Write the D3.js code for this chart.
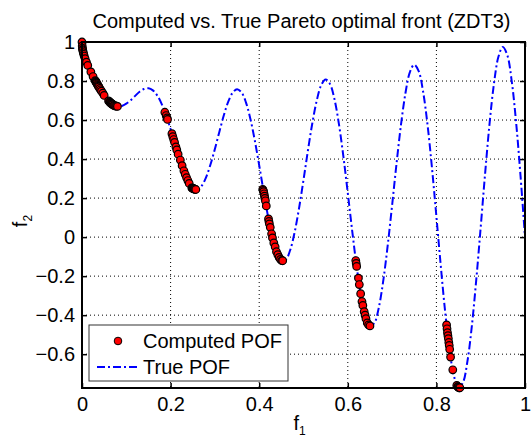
<!DOCTYPE html>
<html>
<head>
<meta charset="utf-8">
<script src="https://cdn.jsdelivr.net/npm/d3@7"></script>
<style>
  body { margin: 0; background: #fff; }
  svg { display: block; font-family: Arial, "Liberation Sans", sans-serif; }
  .grid line { stroke: #000; stroke-width: 1; stroke-dasharray: 1,3; }
</style>
</head>
<body>
<div id="chart"></div>
<script>
// true Pareto front
const trueF1 = [0, 0.001, 0.003, 0.005, 0.01, 0.02, 0.03, 0.04, 0.05, 0.06, 0.07, 0.08, 0.09,
  0.10, 0.11, 0.12, 0.13, 0.14, 0.15, 0.16, 0.17, 0.18, 0.19,
  0.20, 0.21, 0.22, 0.23, 0.24, 0.25, 0.26, 0.27, 0.28, 0.29,
  0.30, 0.31, 0.32, 0.33, 0.34, 0.35, 0.36, 0.37, 0.38, 0.39,
  0.40, 0.41, 0.42, 0.43, 0.44, 0.45, 0.46, 0.47, 0.48, 0.49,
  0.50, 0.51, 0.52, 0.53, 0.54, 0.55, 0.56, 0.57, 0.58, 0.59,
  0.60, 0.61, 0.62, 0.63, 0.64, 0.65, 0.66, 0.67, 0.68, 0.69,
  0.70, 0.71, 0.72, 0.73, 0.74, 0.75, 0.76, 0.77, 0.78, 0.79,
  0.80, 0.81, 0.82, 0.83, 0.84, 0.85, 0.86, 0.87, 0.88, 0.89,
  0.90, 0.91, 0.92, 0.93, 0.94, 0.95, 0.96, 0.97, 0.98, 0.99, 1.00]
const trueF2 = [1, 0.968, 0.945, 0.928, 0.897, 0.847, 0.803, 0.762, 0.726, 0.698, 0.679, 0.670, 0.672,
  0.684, 0.702, 0.724, 0.745, 0.759, 0.763, 0.752, 0.725, 0.682, 0.623,
  0.553, 0.477, 0.402, 0.334, 0.282, 0.250, 0.243, 0.262, 0.306, 0.372,
  0.452, 0.539, 0.623, 0.693, 0.740, 0.758, 0.742, 0.691, 0.607, 0.496,
  0.368, 0.233, 0.105, -0.004, -0.082, -0.121, -0.116, -0.066, 0.025, 0.149,
  0.293, 0.444, 0.585, 0.701, 0.779, 0.808, 0.784, 0.706, 0.579, 0.414,
  0.225, 0.031, -0.152, -0.303, -0.409, -0.456, -0.440, -0.361, -0.224, -0.044,
  0.163, 0.377, 0.575, 0.736, 0.844, 0.884, 0.851, 0.745, 0.575, 0.355,
  0.106, -0.150, -0.388, -0.583, -0.715, -0.772, -0.745, -0.637, -0.456, -0.218,
  0.051, 0.327, 0.582, 0.788, 0.924, 0.975, 0.933, 0.800, 0.586, 0.311, 0]

// computed front (dense clusters show up nearly black)
const compF1 = [0.000, 0.0005, 0.001, 0.0015, 0.002, 0.003, 0.004, 0.005, 0.007, 0.010, 0.013, 0.020, 0.025,
  0.030, 0.031, 0.032, 0.033, 0.034, 0.035, 0.036, 0.037, 0.038, 0.040, 0.042, 0.044, 0.047, 0.050,
  0.060, 0.062, 0.063, 0.064, 0.065, 0.066, 0.067, 0.068, 0.069, 0.070, 0.072, 0.074, 0.076, 0.078, 0.080,
  0.187, 0.190, 0.192, 0.193, 0.203, 0.205, 0.207, 0.209, 0.212, 0.214, 0.217, 0.222,
  0.226, 0.230, 0.233, 0.236, 0.239, 0.242, 0.248, 0.249, 0.250, 0.251, 0.252, 0.253, 0.254, 0.255, 0.257,
  0.408, 0.409, 0.410, 0.411, 0.412, 0.413, 0.414, 0.416, 0.421, 0.422, 0.423, 0.425, 0.428, 0.430,
  0.433, 0.436, 0.439, 0.442, 0.445, 0.448, 0.451, 0.453,
  0.618, 0.619, 0.620, 0.624, 0.626, 0.629, 0.632, 0.634, 0.637, 0.639, 0.641, 0.644, 0.647, 0.650,
  0.823, 0.824, 0.825, 0.826, 0.827, 0.828, 0.829, 0.830, 0.832, 0.837, 0.846, 0.848, 0.849, 0.850, 0.851, 0.852, 0.853]
const compF2 = [1.000, 0.980, 0.968, 0.961, 0.955, 0.945, 0.937, 0.928, 0.915, 0.897, 0.880, 0.847, 0.823,
  0.802, 0.798, 0.794, 0.790, 0.786, 0.782, 0.778, 0.774, 0.770, 0.762, 0.755, 0.748, 0.738, 0.726,
  0.698, 0.694, 0.691, 0.689, 0.687, 0.685, 0.683, 0.682, 0.680, 0.679, 0.675, 0.673, 0.672, 0.671, 0.670,
  0.640, 0.623, 0.611, 0.603, 0.530, 0.515, 0.500, 0.485, 0.462, 0.447, 0.425, 0.395,
  0.366, 0.340, 0.322, 0.305, 0.290, 0.275, 0.252, 0.251, 0.250, 0.249, 0.248, 0.247, 0.246, 0.245, 0.244,
  0.245, 0.239, 0.233, 0.222, 0.210, 0.198, 0.186, 0.160, 0.093, 0.080, 0.068, 0.050, 0.017, -0.004,
  -0.030, -0.050, -0.075, -0.090, -0.104, -0.114, -0.120, -0.121,
  -0.120, -0.135, -0.150, -0.210, -0.243, -0.290, -0.330, -0.350, -0.382, -0.400, -0.418, -0.440, -0.450, -0.455,
  -0.450, -0.470, -0.490, -0.505, -0.520, -0.540, -0.555, -0.575, -0.615, -0.680, -0.760, -0.766, -0.768, -0.770, -0.772, -0.773, -0.772]

const xTicks = [0, 0.2, 0.4, 0.6, 0.8, 1]
const yTicks = [-0.6, -0.4, -0.2, 0, 0.2, 0.4, 0.6, 0.8, 1]
const legendLabels = ['Computed POF', 'True POF']

const width = 532
const height = 437
const margin = { top: 42, right: 7, bottom: 49, left: 82 }
const plotW = width - margin.left - margin.right
const plotH = height - margin.top - margin.bottom
const fontSize = 20

const x = d3.scaleLinear().domain([0, 1]).range([0, plotW])
const y = d3.scaleLinear().domain([-0.7733, 1]).range([plotH, 0])

const svg = d3.select('#chart').append('svg')
  .attr('width', width)
  .attr('height', height)

const g = svg.append('g')
  .attr('transform', 'translate(' + margin.left + ',' + margin.top + ')')

// grid
const grid = g.append('g').attr('class', 'grid')
grid.selectAll('.vg')
  .data(xTicks.filter(d => d > 0 && d < 1))
  .enter().append('line')
  .attr('x1', d => x(d)).attr('x2', d => x(d))
  .attr('y1', 0).attr('y2', plotH)
grid.selectAll('.hg')
  .data(yTicks.filter(d => d < 1))
  .enter().append('line')
  .attr('x1', 0).attr('x2', plotW)
  .attr('y1', d => y(d)).attr('y2', d => y(d))

// axes, ticks inward on all four sides
const tickLen = 5
const xAxisB = d3.axisBottom(x).tickValues(xTicks).tickSize(-tickLen).tickPadding(9).tickFormat(d3.format('~g'))
const xAxisT = d3.axisTop(x).tickValues(xTicks).tickSize(-tickLen).tickFormat('')
const yAxisL = d3.axisLeft(y).tickValues(yTicks).tickSize(-tickLen).tickPadding(7).tickFormat(d3.format('~g'))
const yAxisR = d3.axisRight(y).tickValues(yTicks).tickSize(-tickLen).tickFormat('')

function styleAxis(sel) {
  sel.select('.domain').remove()
  sel.selectAll('line').attr('stroke', '#000').attr('stroke-width', 1.5)
  sel.selectAll('text')
    .attr('fill', '#000')
    .style('font-size', fontSize + 'px')
    .style('font-family', 'Arial, "Liberation Sans", sans-serif')
}

g.append('g').attr('transform', 'translate(0,' + plotH + ')').call(xAxisB).call(styleAxis)
g.append('g').call(xAxisT).call(styleAxis)
g.append('g').call(yAxisL).call(styleAxis)
g.append('g').attr('transform', 'translate(' + plotW + ',0)').call(yAxisR).call(styleAxis)

// true front
const trueData = trueF1.map((d, i) => [d, trueF2[i]])
const line = d3.line().x(d => x(d[0])).y(d => y(d[1])).curve(d3.curveCatmullRom)

g.append('path')
  .datum(trueData)
  .attr('fill', 'none')
  .attr('stroke', '#0000ff')
  .attr('stroke-width', 2)
  .attr('stroke-dasharray', '8,3,2,3')
  .attr('d', line)

// computed points
const compData = compF1.map((d, i) => [d, compF2[i]])
g.selectAll('.pt')
  .data(compData)
  .enter().append('circle')
  .attr('class', 'pt')
  .attr('cx', d => x(d[0]))
  .attr('cy', d => y(d[1]))
  .attr('r', 3.8)
  .attr('fill', '#ff0000')
  .attr('stroke', '#000')
  .attr('stroke-width', 1.2)

// box
g.append('rect')
  .attr('x', 0).attr('y', 0)
  .attr('width', plotW).attr('height', plotH)
  .attr('fill', 'none')
  .attr('stroke', '#000')
  .attr('stroke-width', 2)

// legend
const leg = svg.append('g').attr('transform', 'translate(89,325)')
leg.append('rect')
  .attr('x', 0).attr('y', 0)
  .attr('width', 199).attr('height', 56)
  .attr('fill', '#fff')
  .attr('stroke', '#333')
  .attr('stroke-width', 1)
leg.append('circle')
  .attr('cx', 29).attr('cy', 16)
  .attr('r', 3.8)
  .attr('fill', '#ff0000')
  .attr('stroke', '#000')
  .attr('stroke-width', 1)
leg.append('line')
  .attr('x1', 8).attr('x2', 51)
  .attr('y1', 42).attr('y2', 42)
  .attr('stroke', '#0000ff')
  .attr('stroke-width', 2)
  .attr('stroke-dasharray', '8,3,2,3')
leg.selectAll('.lt')
  .data(legendLabels)
  .enter().append('text')
  .attr('x', 54)
  .attr('y', (d, i) => 16 + i * 26)
  .attr('dy', '0.35em')
  .style('font-size', fontSize + 'px')
  .text(d => d)

// title and labels
svg.append('text')
  .attr('x', margin.left + plotW / 2 - 2)
  .attr('y', 28)
  .attr('text-anchor', 'middle')
  .style('font-size', fontSize + 'px')
  .text('Computed vs. True Pareto optimal front (ZDT3)')

const xl = svg.append('text')
  .attr('x', margin.left + plotW / 2 - 4)
  .attr('y', 430)
  .attr('text-anchor', 'middle')
  .style('font-size', fontSize + 'px')
xl.append('tspan').text('f')
xl.append('tspan').attr('dy', 5).style('font-size', '12px').text('1')

const yl = svg.append('text')
  .attr('transform', 'translate(27,' + (margin.top + plotH / 2 + 6) + ') rotate(-90)')
  .attr('text-anchor', 'middle')
  .style('font-size', fontSize + 'px')
yl.append('tspan').text('f')
yl.append('tspan').attr('dy', 5).style('font-size', '12px').text('2')
</script>
</body>
</html>
